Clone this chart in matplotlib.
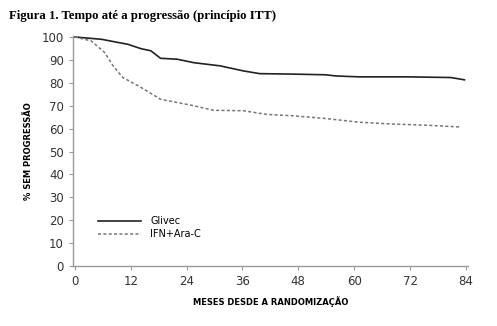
import matplotlib.pyplot as plt

# DATA
glivec_months = [0, 5.7, 11.4, 14.2, 16.3, 18.4, 22, 25.5, 31.2, 36.2, 39.7, 46.8, 53.9, 56, 61, 71.6, 80.8, 83.7]
glivec_pct = [100, 99.0, 96.8, 94.9, 94.0, 90.7, 90.3, 88.8, 87.4, 85.2, 84.0, 83.8, 83.5, 83.0, 82.6, 82.6, 82.3, 81.3]

ifn_months = [0, 3.5, 6.4, 8.2, 10.3, 14.2, 18.4, 25.5, 29.8, 36.2, 41.2, 46.8, 53.9, 61, 68.1, 75.3, 82.9]
ifn_pct = [100, 98.3, 93.2, 87.4, 82.3, 78.0, 72.8, 70.0, 68.0, 67.8, 66.2, 65.6, 64.4, 62.8, 62.0, 61.5, 60.7]

x_ticks = [0, 12, 24, 36, 48, 60, 72, 84]
y_ticks = [0, 10, 20, 30, 40, 50, 60, 70, 80, 90, 100]

# PLOT
fig = plt.figure(figsize=(4.97, 3.26), dpi=100)
ax = fig.add_axes([0.147, 0.184, 0.795, 0.706])

ax.plot(glivec_months, glivec_pct, color='#222222', lw=1.2, label='Glivec')
ax.plot(ifn_months, ifn_pct, color='#777777', lw=1.1, ls=(0, (2, 1.5)), label='IFN+Ara-C')

ax.set_xlim(-0.4, 84.5)
ax.set_ylim(0, 100.5)
ax.set_xticks(x_ticks)
ax.set_yticks(y_ticks)

for s in ['top', 'right']:
    ax.spines[s].set_visible(False)
for s in ['left', 'bottom']:
    ax.spines[s].set_color('#999999')
    ax.spines[s].set_linewidth(1.0)

ax.tick_params(axis='both', colors='#999999', labelcolor='#333333',
               labelsize=8.5, length=3, width=0.8)

ax.set_ylabel('% SEM PROGRESSÃO', fontsize=6, fontweight='bold', labelpad=6)
ax.set_xlabel('MESES DESDE A RANDOMIZAÇÃO', fontsize=6, fontweight='bold', labelpad=6)

ax.legend(loc='upper left', bbox_to_anchor=(0.04, 0.255), frameon=False,
          fontsize=7, handlelength=4.5, handletextpad=0.9, labelspacing=0.3)

fig.text(0.018, 0.952, 'Figura 1. Tempo até a progressão (princípio ITT)',
         family='Liberation Serif', fontweight='bold', fontsize=9.2, va='center')

fig.savefig('out.png', dpi=100)
print("saved")
